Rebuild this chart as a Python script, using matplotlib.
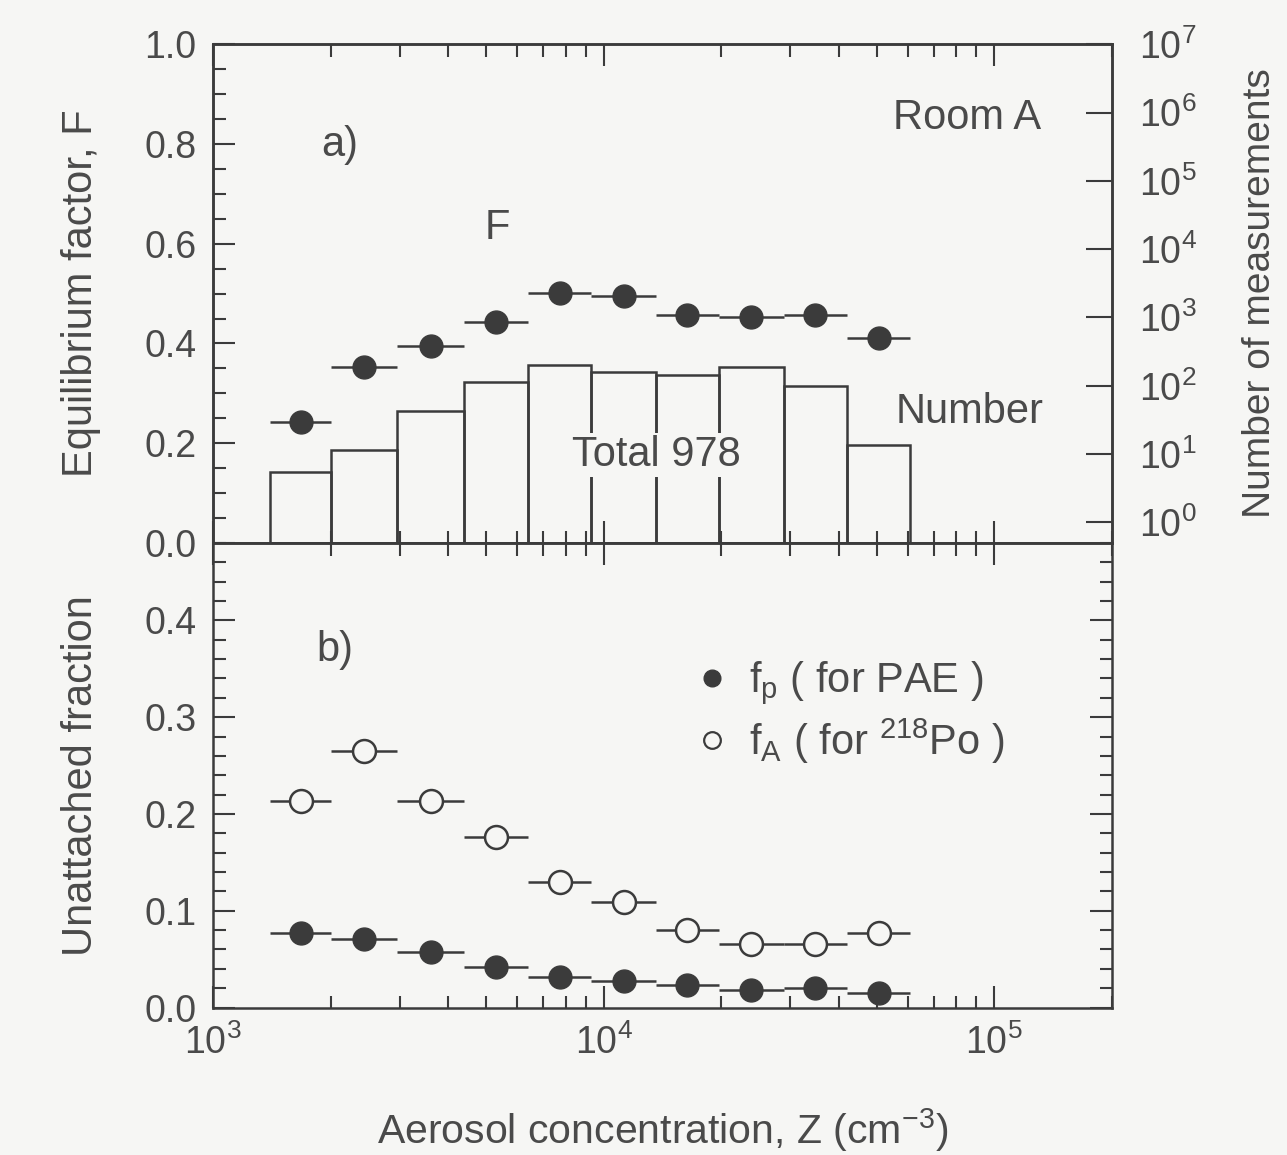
import matplotlib
matplotlib.use("Agg")
import matplotlib.pyplot as plt
import numpy as np
from matplotlib.ticker import FixedLocator, MultipleLocator, FuncFormatter, LogLocator, NullFormatter, NullLocator
from matplotlib.lines import Line2D

plt.rcParams['font.family'] = ['Liberation Sans', 'DejaVu Sans']
plt.rcParams['mathtext.fontset'] = 'custom'
plt.rcParams['mathtext.rm'] = 'Liberation Sans'

# Aerosol concentration bin edges (cm^-3)
bin_edges = [1400, 2000, 2950, 4400, 6400, 9300, 13600, 19700, 28900, 42000, 61000]
# Number of measurements per bin (total 978)
counts = [5, 11, 42, 112, 200, 160, 145, 190, 100, 13]
# Equilibrium factor per bin
F_vals = [0.243, 0.352, 0.395, 0.444, 0.501, 0.496, 0.457, 0.453, 0.457, 0.411]
# Unattached fractions per bin
fA_vals = [0.213, 0.265, 0.213, 0.176, 0.130, 0.109, 0.080, 0.066, 0.066, 0.077]
fp_vals = [0.077, 0.071, 0.057, 0.042, 0.032, 0.027, 0.023, 0.018, 0.020, 0.015]

ink = '#3b3b3b'
txt = '#4a4a4a'
bg = '#f6f6f4'
lw = 1.8
fs = 27      # tick labels
fl = 30      # axis labels and annotations

edges = np.array(bin_edges, dtype=float)
centers = np.sqrt(edges[:-1] * edges[1:])
xerr = [centers - edges[:-1], edges[1:] - centers]

fig = plt.figure(figsize=(12.87, 11.55), dpi=100, facecolor=bg)
L, W = 0.1657, 0.6981
ax1 = fig.add_axes([L, 0.5299, W, 0.4318], facecolor=bg)
ax3 = fig.add_axes([L, 0.1277, W, 0.4022], facecolor=bg, sharex=ax1)

for ax in (ax1, ax3):
    ax.set_xscale('log')
    for s in ax.spines.values():
        s.set_linewidth(lw)
        s.set_color(ink)
    ax.tick_params(which='both', direction='in', top=True, bottom=True,
                   color=ink, width=1.5, labelcolor=txt, labelsize=fs)
    ax.tick_params(which='major', length=16)
    ax.tick_params(which='minor', length=9)
ax1.set_xlim(1e3, 2e5)

# Panel a: histogram on a log count axis, F on the linear axis
ax2 = ax1.twinx()
ax2.set_yscale('log')
ax2.set_ylim(0.5, 1e7)
ax2.bar(edges[:-1], counts, width=np.diff(edges), align='edge', bottom=0.5,
        fill=False, edgecolor=ink, linewidth=lw, zorder=2)
ax2.yaxis.set_major_locator(FixedLocator([10.0 ** k for k in range(0, 8)]))
ax2.yaxis.set_minor_locator(NullLocator())
ax2.yaxis.set_major_formatter(FuncFormatter(lambda v, p: r'$\mathregular{10^{%d}}$' % round(np.log10(v))))
ax2.tick_params(axis='y', which='major', direction='in', length=19, width=1.5,
                color=ink, labelcolor=txt, labelsize=fs, pad=20)
for s in ax2.spines.values():
    s.set_linewidth(lw)
    s.set_color(ink)
ax2.set_ylabel('Number of measurements', fontsize=28, color=txt, labelpad=32)

ax1.errorbar(centers, F_vals, xerr=xerr, fmt='o', color=ink, ms=16.5,
             elinewidth=lw, capsize=0, zorder=5)
ax1.set_ylim(0, 1.0)
ax1.yaxis.set_major_locator(MultipleLocator(0.2))
ax1.yaxis.set_minor_locator(MultipleLocator(0.05))
ax1.yaxis.set_major_formatter(FuncFormatter(lambda v, p: '%.1f' % v))
ax1.tick_params(axis='y', which='both', right=False, pad=12)
ax1.tick_params(axis='x', which='both', labelbottom=False)
ax1.set_ylabel('Equilibrium factor, F', fontsize=fl, color=txt, labelpad=31)

ax1.text(0.141, 0.798, 'a)', transform=ax1.transAxes, fontsize=fl, color=txt, ha='center', va='center')
ax1.text(0.316, 0.632, 'F', transform=ax1.transAxes, fontsize=fl, color=txt, ha='center', va='center')
ax1.text(0.839, 0.852, 'Room A', transform=ax1.transAxes, fontsize=fl, color=txt, ha='center', va='center')
ax2.text(0.842, 0.263, 'Number', transform=ax1.transAxes, fontsize=fl, color=txt, ha='center', va='center')
ax2.text(0.493, 0.176, 'Total 978', transform=ax1.transAxes, fontsize=fl, color=txt, ha='center', va='center',
         zorder=4, bbox=dict(boxstyle='square,pad=0.05', facecolor=bg, edgecolor='none'))

# Panel b: unattached fractions
ax3.errorbar(centers, fA_vals, xerr=xerr, fmt='o', color=ink, mfc=bg, mec=ink,
             mew=1.8, ms=16.5, elinewidth=lw, capsize=0, zorder=5)
ax3.errorbar(centers, fp_vals, xerr=xerr, fmt='o', color=ink, ms=16.5,
             elinewidth=lw, capsize=0, zorder=6)
ax3.set_ylim(0, 0.48)
ax3.yaxis.set_major_locator(MultipleLocator(0.1))
ax3.yaxis.set_minor_locator(MultipleLocator(0.02))
ax3.yaxis.set_major_formatter(FuncFormatter(lambda v, p: '%.1f' % v))
ax3.tick_params(axis='y', which='both', right=True, pad=12)
ax3.xaxis.set_major_locator(LogLocator(base=10))
ax3.xaxis.set_minor_locator(LogLocator(base=10, subs=np.arange(2, 10)))
ax3.xaxis.set_minor_formatter(NullFormatter())
ax3.xaxis.set_major_formatter(FuncFormatter(lambda v, p: r'$\mathregular{10^{%d}}$' % round(np.log10(v))))
ax3.tick_params(axis='x', which='major', pad=12)
ax3.set_ylabel('Unattached fraction', fontsize=fl, color=txt, labelpad=31)
ax3.set_xlabel(r'Aerosol concentration, Z (cm$^\mathregular{-3}$)', fontsize=29.5, color=txt, labelpad=32)
ax3.text(0.135, 0.770, 'b)', transform=ax3.transAxes, fontsize=fl, color=txt, ha='center', va='center')

handles = [Line2D([], [], ls='none', marker='o', color=ink, ms=12),
           Line2D([], [], ls='none', marker='o', mfc=bg, mec=ink, mew=1.6, ms=12)]
labels = [r'f$_\mathregular{p}$ ( for PAE )', r'f$_\mathregular{A}$ ( for $^\mathregular{218}$Po )']
leg = ax3.legend(handles, labels, loc='upper left', bbox_to_anchor=(0.49, 0.83),
                 frameon=False, fontsize=fl, handlelength=1.0, handletextpad=0.4,
                 labelspacing=0.22, labelcolor=txt)

fig.savefig('out.png', dpi=100, facecolor=bg)
